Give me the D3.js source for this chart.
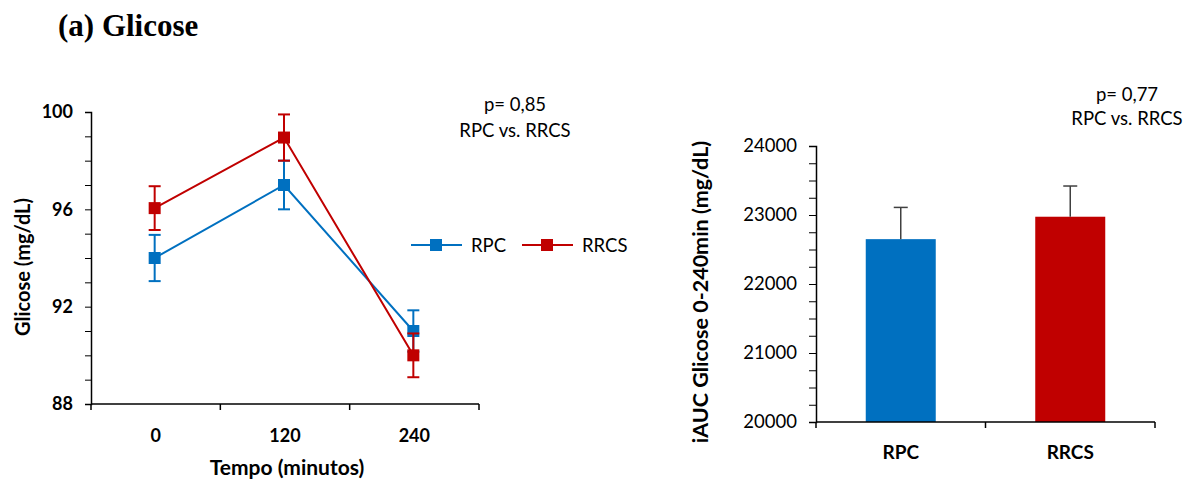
<!DOCTYPE html>
<html>
<head>
<meta charset="utf-8">
<script src="https://cdn.jsdelivr.net/npm/d3@7"></script>
<style>
  body { margin: 0; background: #fff; }
  text { font-family: Lato, "Open Sans", sans-serif; }
</style>
</head>
<body>
<script>
// data
const times = ["0", "120", "240"];
const groups = ["RPC", "RRCS"];
const colors = ["#0070C0", "#C00000"];
const rpcMean = [94.0, 97.0, 91.0];
const rpcErr = [0.95, 1.0, 0.85];
const rrcsMean = [96.05, 98.95, 90.0];
const rrcsErr = [0.9, 0.95, 0.9];
const glucoseTicks = [88, 92, 96, 100];
const aucMean = [22650, 22975];
const aucErr = [460, 445];
const aucTicks = [20000, 21000, 22000, 23000, 24000];

const W = 1190, H = 482;
const svg = d3.select("body").append("svg")
    .attr("width", W)
    .attr("height", H);

svg.append("text")
    .attr("x", 58).attr("y", 36)
    .style("font-family", "'Liberation Serif', serif")
    .style("font-weight", "bold")
    .style("font-size", "31px")
    .text("(a) Glicose");

// ---------- left: line chart ----------
const x1 = d3.scaleBand().domain(times).range([91, 479]);
const y1 = d3.scaleLinear().domain([88, 100]).range([404, 112]);

const left = svg.append("g");

// minor ticks every 1 unit
left.append("g")
    .attr("transform", "translate(91,0)")
    .call(d3.axisLeft(y1).tickValues(d3.range(88, 101, 1)).tickSize(6).tickFormat(""))
    .call(g => g.select(".domain").attr("stroke", "#000").attr("stroke-width", 1.5));

left.append("g")
    .attr("transform", "translate(91,0)")
    .call(d3.axisLeft(y1).tickValues(glucoseTicks).tickSize(0).tickPadding(18).tickFormat(d3.format("d")))
    .call(g => g.select(".domain").remove())
    .selectAll("text")
    .style("font-family", "Lato, sans-serif")
    .style("font-size", "18px")
    .style("font-weight", "bold")
    .attr("fill", "#000");

const xa = left.append("g").attr("transform", "translate(0,404)");
xa.append("line").attr("x1", 91).attr("x2", 479).attr("stroke", "#000").attr("stroke-width", 1.5);
xa.selectAll("line.tk")
    .data(times.map(t => x1(t)).concat([x1.range()[1]]))
    .join("line")
    .attr("class", "tk")
    .attr("x1", d => d).attr("x2", d => d)
    .attr("y1", 0).attr("y2", 6)
    .attr("stroke", "#000").attr("stroke-width", 1.5);
xa.selectAll("text")
    .data(times)
    .join("text")
    .attr("x", d => x1(d) + x1.bandwidth() / 2)
    .attr("y", 38)
    .attr("text-anchor", "middle")
    .style("font-size", "18px")
    .style("font-weight", "bold")
    .text(d => d);

left.append("text")
    .attr("x", 287).attr("y", 475)
    .attr("text-anchor", "middle")
    .style("font-size", "21px")
    .style("font-weight", "bold")
    .text("Tempo (minutos)");

left.append("text")
    .attr("transform", "translate(30,267) rotate(-90)")
    .attr("text-anchor", "middle")
    .style("font-size", "20px")
    .style("font-weight", "bold")
    .text("Glicose (mg/dL)");

const series = [
    {name: groups[0], mean: rpcMean, err: rpcErr, color: colors[0]},
    {name: groups[1], mean: rrcsMean, err: rrcsErr, color: colors[1]}
];
const cx = t => x1(t) + x1.bandwidth() / 2 - 1;
const line = d3.line().x(d => cx(d.t)).y(d => y1(d.v));

series.forEach(s => {
    const pts = times.map((t, i) => ({t: t, v: s.mean[i], e: s.err[i]}));
    const g = left.append("g");
    g.selectAll("line.eb")
        .data(pts).join("line")
        .attr("x1", d => cx(d.t)).attr("x2", d => cx(d.t))
        .attr("y1", d => y1(d.v - d.e)).attr("y2", d => y1(d.v + d.e))
        .attr("stroke", s.color).attr("stroke-width", 2);
    [-1, 1].forEach(sign => {
        g.selectAll("line.cap" + sign)
            .data(pts).join("line")
            .attr("x1", d => cx(d.t) - 6).attr("x2", d => cx(d.t) + 6)
            .attr("y1", d => y1(d.v + sign * d.e)).attr("y2", d => y1(d.v + sign * d.e))
            .attr("stroke", s.color).attr("stroke-width", 2);
    });
    g.append("path")
        .datum(pts)
        .attr("d", line)
        .attr("fill", "none")
        .attr("stroke", s.color)
        .attr("stroke-width", 2);
    g.selectAll("rect")
        .data(pts).join("rect")
        .attr("x", d => cx(d.t) - 6).attr("y", d => y1(d.v) - 6)
        .attr("width", 12).attr("height", 12)
        .attr("fill", s.color);
});

// legend
const legX = [411, 522];
series.forEach((s, i) => {
    const lg = left.append("g").attr("transform", `translate(${legX[i]},245)`);
    lg.append("line").attr("x1", 0).attr("x2", 51).attr("stroke", s.color).attr("stroke-width", 2);
    lg.append("rect").attr("x", 19).attr("y", -6).attr("width", 12).attr("height", 12).attr("fill", s.color);
    lg.append("text").attr("x", 60).attr("y", 7).style("font-size", "18.5px").text(s.name);
});

left.append("text").attr("x", 515).attr("y", 111).attr("text-anchor", "middle")
    .style("font-size", "18.5px").text("p= 0,85");
left.append("text").attr("x", 515).attr("y", 137).attr("text-anchor", "middle")
    .style("font-size", "18.5px").text("RPC vs. RRCS");

// ---------- right: bar chart ----------
const x2 = d3.scaleBand().domain(groups).range([816, 1155]).paddingInner(0.587).paddingOuter(0.2935);
const xb = d3.scaleBand().domain(groups).range([816, 1155]);
const y2 = d3.scaleLinear().domain([20000, 24000]).range([422, 146]);

const right = svg.append("g");

right.append("g")
    .attr("transform", "translate(816,0)")
    .call(d3.axisLeft(y2).tickValues(d3.range(20000, 24001, 250)).tickSize(7).tickFormat(""))
    .call(g => g.select(".domain").attr("stroke", "#000").attr("stroke-width", 1.5));

right.append("g")
    .attr("transform", "translate(816,0)")
    .call(d3.axisLeft(y2).tickValues(aucTicks).tickSize(0).tickPadding(19).tickFormat(d3.format("d")))
    .call(g => g.select(".domain").remove())
    .selectAll("text")
    .style("font-family", "Lato, sans-serif")
    .style("font-size", "18.5px")
    .attr("fill", "#000");

right.selectAll("rect.bar")
    .data(groups).join("rect")
    .attr("class", "bar")
    .attr("x", d => x2(d))
    .attr("width", x2.bandwidth())
    .attr("y", (d, i) => y2(aucMean[i]))
    .attr("height", (d, i) => y2(20000) - y2(aucMean[i]))
    .attr("fill", (d, i) => colors[i]);

right.selectAll("line.eb")
    .data(groups).join("line")
    .attr("class", "eb")
    .attr("x1", d => x2(d) + x2.bandwidth() / 2).attr("x2", d => x2(d) + x2.bandwidth() / 2)
    .attr("y1", (d, i) => y2(aucMean[i])).attr("y2", (d, i) => y2(aucMean[i] + aucErr[i]))
    .attr("stroke", "#404040").attr("stroke-width", 1.5);
right.selectAll("line.cap")
    .data(groups).join("line")
    .attr("class", "cap")
    .attr("x1", d => x2(d) + x2.bandwidth() / 2 - 7).attr("x2", d => x2(d) + x2.bandwidth() / 2 + 7)
    .attr("y1", (d, i) => y2(aucMean[i] + aucErr[i])).attr("y2", (d, i) => y2(aucMean[i] + aucErr[i]))
    .attr("stroke", "#404040").attr("stroke-width", 1.5);

const xr = right.append("g").attr("transform", "translate(0,422)");
xr.append("line").attr("x1", 816).attr("x2", 1155).attr("stroke", "#000").attr("stroke-width", 1.5);
xr.selectAll("line.tk")
    .data(groups.map(g => xb(g)).concat([1155]))
    .join("line")
    .attr("class", "tk")
    .attr("x1", d => d).attr("x2", d => d)
    .attr("y1", 0).attr("y2", 6)
    .attr("stroke", "#000").attr("stroke-width", 1.5);
xr.selectAll("text")
    .data(groups).join("text")
    .attr("x", d => x2(d) + x2.bandwidth() / 2)
    .attr("y", 37)
    .attr("text-anchor", "middle")
    .style("font-size", "19px")
    .style("font-weight", "bold")
    .text(d => d);

right.append("text")
    .attr("transform", "translate(708,292) rotate(-90)")
    .attr("text-anchor", "middle")
    .style("font-size", "21.5px")
    .style("font-weight", "bold")
    .text("iAUC Glicose 0-240min (mg/dL)");

right.append("text").attr("x", 1127).attr("y", 101).attr("text-anchor", "middle")
    .style("font-size", "18.5px").text("p= 0,77");
right.append("text").attr("x", 1127).attr("y", 125).attr("text-anchor", "middle")
    .style("font-size", "18.5px").text("RPC vs. RRCS");
</script>
</body>
</html>
